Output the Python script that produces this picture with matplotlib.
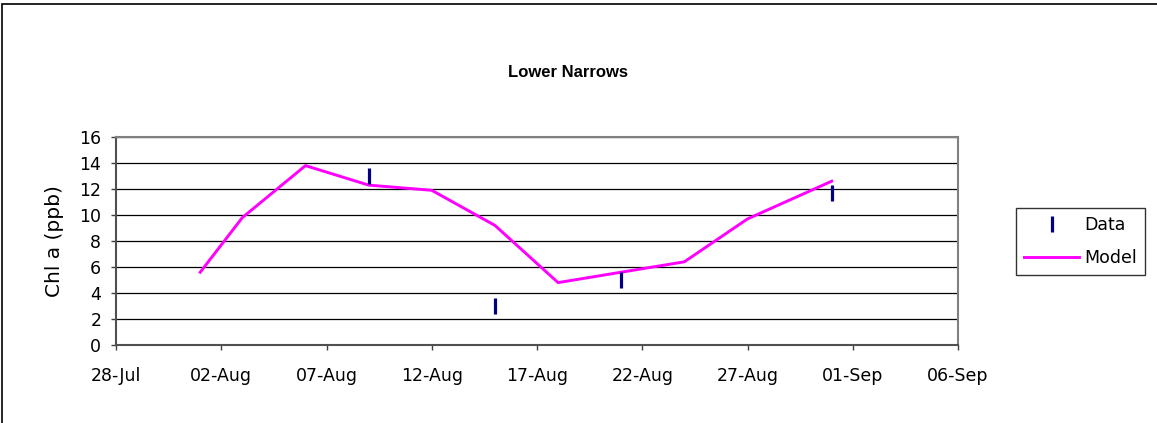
import datetime as dt
import matplotlib
matplotlib.use("Agg")
import matplotlib.pyplot as plt
import matplotlib.dates as mdates
from matplotlib.patches import Rectangle

plt.rcParams['font.family'] = ['DejaVu Sans']

# model output (Chl a, ppb)
model_dates = ["2004-08-01", "2004-08-03", "2004-08-06", "2004-08-09", "2004-08-12",
               "2004-08-15", "2004-08-18", "2004-08-21", "2004-08-24", "2004-08-27",
               "2004-08-31"]
model_vals = [5.6, 9.8, 13.8, 12.3, 11.9, 9.2, 4.8, 5.6, 6.4, 9.7, 12.6]

# observations
data_dates = ["2004-08-09", "2004-08-15", "2004-08-21", "2004-08-31"]
data_vals = [13.0, 3.0, 5.0, 11.7]

y_ticks = [0, 2, 4, 6, 8, 10, 12, 14, 16]
x_start, x_end = "2004-07-28", "2004-09-06"

to_date = lambda s: dt.datetime.strptime(s, "%Y-%m-%d")
mx = [to_date(d) for d in model_dates]
dx = [to_date(d) for d in data_dates]

fig = plt.figure(figsize=(11.57, 4.23), dpi=100)
ax = fig.add_axes([0.1003, 0.1844, 0.7277, 0.4917])

# outer chart frame
fig.patches.append(Rectangle((0.002, -0.05), 1.1, 1.04, transform=fig.transFigure,
                             fill=False, edgecolor='black', linewidth=1.2))

for v in y_ticks[1:]:
    ax.axhline(v, color='black', linewidth=0.9, zorder=1)

ax.plot(dx, data_vals, linestyle='none', marker='|', markersize=11, markeredgewidth=2.3,
        color='#000080', label='Data', zorder=4)
ax.plot(mx, model_vals, color='#ff00ff', linewidth=2.1, label='Model', zorder=3)

ax.set_xlim(to_date(x_start), to_date(x_end))
ax.set_ylim(0, 16)
ax.set_yticks(y_ticks)
ax.set_xticks([to_date(x_start) + dt.timedelta(days=5 * i) for i in range(9)])
ax.xaxis.set_major_formatter(mdates.DateFormatter('%d-%b'))
ax.tick_params(axis='both', direction='out', length=3.6, width=1, labelsize=12.5,
               color='#404040')
ax.tick_params(axis='x', pad=12)
ax.tick_params(axis='y', pad=7)

for s in ['left', 'bottom']:
    ax.spines[s].set_color('#505050')
    ax.spines[s].set_linewidth(1.5)
for s in ['top', 'right']:
    ax.spines[s].set_color('#808080')
    ax.spines[s].set_linewidth(1.5)

ax.set_ylabel('Chl a (ppb)', fontsize=14.5)
ax.yaxis.set_label_coords(-0.0615, 0.5)
fig.text(0.491, 0.828, 'Lower Narrows', ha='center', va='center', fontsize=12,
         fontweight='bold', family='Liberation Sans')

leg = ax.legend(loc='center left', bbox_to_anchor=(1.069, 0.4976), frameon=True,
                fancybox=False, edgecolor='black', fontsize=12.5, handlelength=3.2,
                handletextpad=0.3, borderpad=0.45, labelspacing=0.9,
                borderaxespad=0)
leg.get_frame().set_linewidth(1.0)

fig.savefig('out.png', dpi=100)
